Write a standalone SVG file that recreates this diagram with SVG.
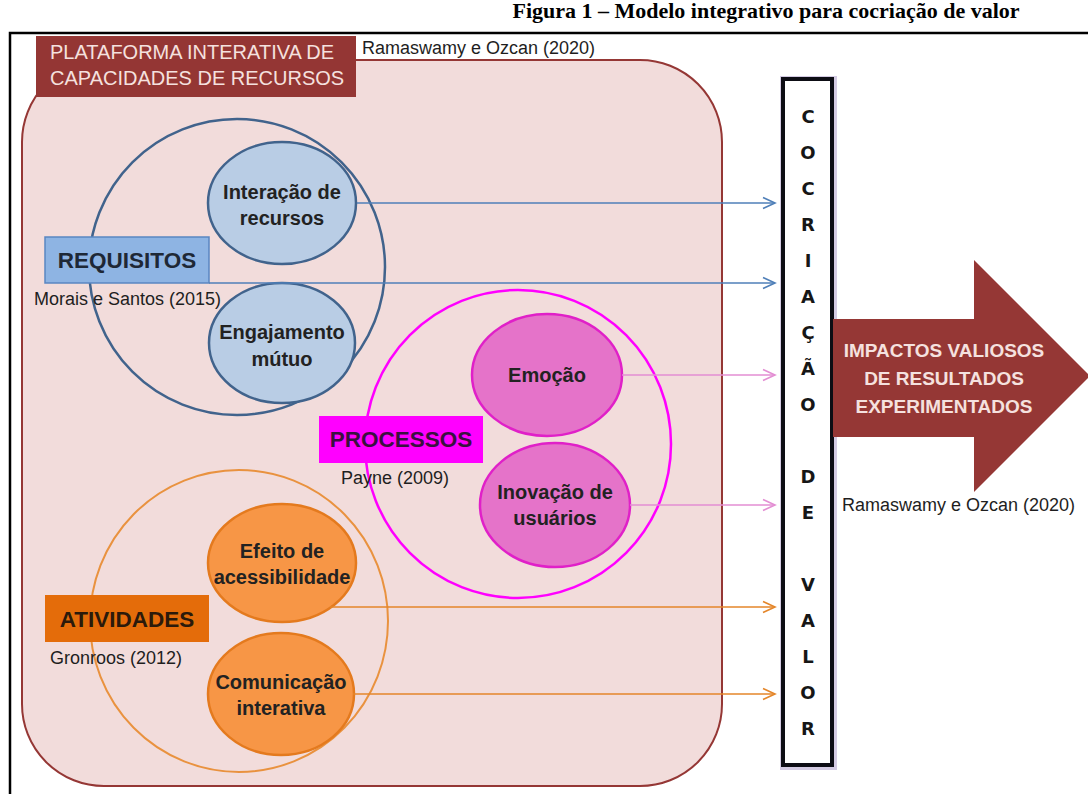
<svg xmlns="http://www.w3.org/2000/svg" width="1088" height="794" viewBox="0 0 1088 794">
  <defs>
    <style>
      .lbl { font-family: "Liberation Sans", Arial, sans-serif; font-weight: bold; font-size: 20px; fill: #222; text-anchor: middle; }
      .cite { font-family: "Liberation Sans", Arial, sans-serif; font-size: 18px; fill: #1e1e1e; }
      .head { font-family: "Liberation Sans", Arial, sans-serif; font-weight: bold; font-size: 22.5px; text-anchor: middle; }
      .col { font-family: "DejaVu Sans", Verdana, sans-serif; font-weight: bold; font-size: 18px; fill: #161616; text-anchor: middle; }
      .blueEl { fill: #B9CDE5; stroke: #41638C; stroke-width: 2.5; }
      .pinkEl { fill: #E573C9; stroke: #E020C8; stroke-width: 2.5; }
      .orgEl { fill: #F79646; stroke: #E47A1E; stroke-width: 2.5; }
      .conn { fill: none; stroke-width: 1.6; }
      .impact { font-family: "Liberation Sans", Arial, sans-serif; font-weight: bold; font-size: 19px; fill: #F5E1DF; text-anchor: middle; }
      .plat { font-family: "Liberation Sans", Arial, sans-serif; font-size: 20px; fill: #F5E1DF; }
    </style>
    <marker id="arrBlue" markerUnits="userSpaceOnUse" markerWidth="16" markerHeight="14" refX="13" refY="7" orient="auto">
      <path d="M1,1.5 L13,7 L1,12.5" fill="none" stroke="#4F7FB8" stroke-width="1.6"/>
    </marker>
    <marker id="arrPink" markerUnits="userSpaceOnUse" markerWidth="16" markerHeight="14" refX="13" refY="7" orient="auto">
      <path d="M1,1.5 L13,7 L1,12.5" fill="none" stroke="#E38ED3" stroke-width="1.6"/>
    </marker>
    <marker id="arrOrange" markerUnits="userSpaceOnUse" markerWidth="16" markerHeight="14" refX="13" refY="7" orient="auto">
      <path d="M1,1.5 L13,7 L1,12.5" fill="none" stroke="#E4862A" stroke-width="1.6"/>
    </marker>
  </defs>

  <rect width="1088" height="794" fill="#ffffff"/>

  <!-- figure caption -->
  <text x="766" y="18" font-family="'Liberation Serif', 'Times New Roman', serif" font-weight="bold" font-size="22" text-anchor="middle" fill="#000">Figura 1 – Modelo integrativo para cocriação de valor</text>

  <!-- outer frame -->
  <rect x="10" y="33" width="1100" height="800" fill="none" stroke="#000" stroke-width="2.5"/>

  <!-- platform container -->
  <g id="plataforma">
    <rect x="22" y="60" width="700" height="726" rx="82" ry="82" fill="#F2DCDB" stroke="#953735" stroke-width="2"/>
    <rect x="36" y="36" width="320" height="61" fill="#943634"/>
    <text class="plat" x="50" y="59">PLATAFORMA INTERATIVA DE</text>
    <text class="plat" x="50" y="85">CAPACIDADES DE RECURSOS</text>
    <text class="cite" x="362" y="54">Ramaswamy e Ozcan (2020)</text>
  </g>

  <!-- requisitos -->
  <g id="requisitos">
    <ellipse cx="237" cy="267" rx="148" ry="148" fill="none" stroke="#41638C" stroke-width="2.5"/>
    <ellipse class="blueEl" cx="282" cy="203" rx="74" ry="61"/>
    <text class="lbl" x="282" y="199">Interação de</text>
    <text class="lbl" x="282" y="225">recursos</text>
    <ellipse class="blueEl" cx="282" cy="343" rx="73" ry="60"/>
    <text class="lbl" x="282" y="339">Engajamento</text>
    <text class="lbl" x="282" y="366">mútuo</text>
    <rect x="45" y="237" width="164" height="46" fill="#8EB4E3" stroke="#5A86C2" stroke-width="1.5"/>
    <text class="head" x="127" y="268" fill="#1E2836">REQUISITOS</text>
    <text class="cite" x="34" y="305">Morais e Santos (2015)</text>
  </g>

  <!-- processos -->
  <g id="processos">
    <ellipse cx="518" cy="444" rx="153" ry="154" fill="none" stroke="#FF00FF" stroke-width="2.5"/>
    <ellipse class="pinkEl" cx="547" cy="375" rx="75" ry="61"/>
    <text class="lbl" x="547" y="382" fill="#2A1030">Emoção</text>
    <ellipse class="pinkEl" cx="555" cy="505" rx="75" ry="62"/>
    <text class="lbl" x="555" y="499" fill="#2A1030">Inovação de</text>
    <text class="lbl" x="555" y="525" fill="#2A1030">usuários</text>
    <rect x="319" y="416" width="164" height="47" fill="#FF00FF"/>
    <text class="head" x="401" y="447" fill="#3A1040">PROCESSOS</text>
    <text class="cite" x="341" y="484">Payne (2009)</text>
  </g>

  <!-- atividades -->
  <g id="atividades">
    <ellipse cx="239" cy="621" rx="149" ry="151" fill="none" stroke="#E9923F" stroke-width="2"/>
    <ellipse class="orgEl" cx="282" cy="563" rx="74" ry="59"/>
    <text class="lbl" x="282" y="558" fill="#2B1A0B">Efeito de</text>
    <text class="lbl" x="282" y="584" fill="#2B1A0B">acessibilidade</text>
    <ellipse class="orgEl" cx="281" cy="694" rx="73" ry="61"/>
    <text class="lbl" x="281" y="689" fill="#2B1A0B">Comunicação</text>
    <text class="lbl" x="281" y="715" fill="#2B1A0B">interativa</text>
    <rect x="45" y="595" width="164" height="47" fill="#E46C0A"/>
    <text class="head" x="127" y="627" fill="#2B1A0B">ATIVIDADES</text>
    <text class="cite" x="50" y="664">Gronroos (2012)</text>
  </g>

  <!-- connectors -->
  <g id="connectors">
    <line class="conn" x1="357" y1="203" x2="775" y2="203" stroke="#4F7FB8" marker-end="url(#arrBlue)"/>
    <line class="conn" x1="209" y1="283" x2="775" y2="283" stroke="#4F7FB8" marker-end="url(#arrBlue)"/>
    <line class="conn" x1="622" y1="375" x2="775" y2="375" stroke="#E38ED3" marker-end="url(#arrPink)"/>
    <line class="conn" x1="630" y1="505" x2="775" y2="505" stroke="#E38ED3" marker-end="url(#arrPink)"/>
    <line class="conn" x1="330" y1="607" x2="775" y2="607" stroke="#E4862A" marker-end="url(#arrOrange)"/>
    <line class="conn" x1="353" y1="694" x2="775" y2="694" stroke="#E4862A" marker-end="url(#arrOrange)"/>
  </g>

  <!-- vertical cocriação column -->
  <g id="cocriacao">
    <rect x="784" y="80" width="49" height="686" fill="none" stroke="#B8A9D0" stroke-width="8" opacity="0.6"/>
    <rect x="783" y="79" width="49" height="686" fill="#ffffff" stroke="#0d0d14" stroke-width="4"/>
    <text class="col" x="808" y="123">C</text>
    <text class="col" x="808" y="159">O</text>
    <text class="col" x="808" y="195">C</text>
    <text class="col" x="808" y="231">R</text>
    <text class="col" x="808" y="267">I</text>
    <text class="col" x="808" y="303">A</text>
    <text class="col" x="808" y="339">Ç</text>
    <text class="col" x="808" y="375">Ã</text>
    <text class="col" x="808" y="411">O</text>
    <text class="col" x="808" y="483">D</text>
    <text class="col" x="808" y="519">E</text>
    <text class="col" x="808" y="591">V</text>
    <text class="col" x="808" y="627">A</text>
    <text class="col" x="808" y="663">L</text>
    <text class="col" x="808" y="699">O</text>
    <text class="col" x="808" y="735">R</text>
  </g>

  <!-- outcome arrow -->
  <g id="impactos">
    <path d="M833,319 L974,319 L974,260 L1090,376 L974,492 L974,437 L833,437 Z" fill="#953735"/>
    <text class="impact" x="944" y="357">IMPACTOS VALIOSOS</text>
    <text class="impact" x="944" y="385">DE RESULTADOS</text>
    <text class="impact" x="944" y="413">EXPERIMENTADOS</text>
    <text class="cite" x="842" y="511">Ramaswamy e Ozcan (2020)</text>
  </g>
</svg>
